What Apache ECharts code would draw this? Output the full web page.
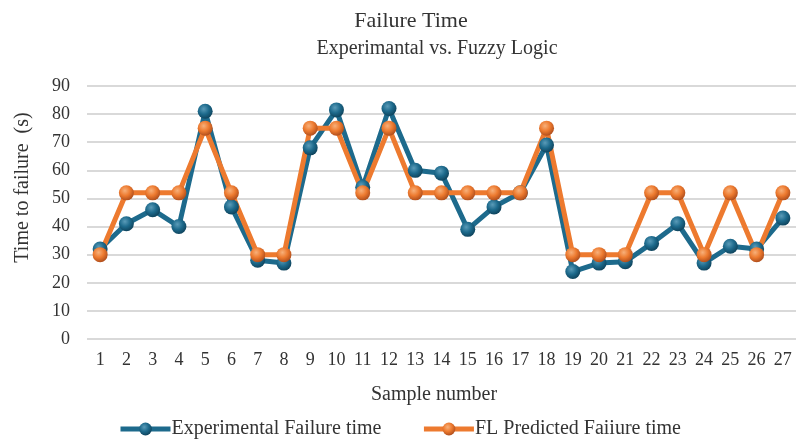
<!DOCTYPE html>
<html>
<head>
<meta charset="utf-8">
<script src="https://cdn.jsdelivr.net/npm/echarts@6/dist/echarts.min.js"></script>
<style>
  html, body { margin: 0; padding: 0; background: #fff; }
  #main { width: 799px; height: 444px; }
</style>
</head>
<body>
<div id="main"></div>
<script>
// 数据
var samples = ['1','2','3','4','5','6','7','8','9','10','11','12','13','14','15','16','17','18','19','20','21','22','23','24','25','26','27'];
var experimental = [32, 41, 46, 40, 81, 47, 28, 27, 68, 81.5, 54, 82, 60, 59, 39, 47, 52, 69, 24, 27, 27.5, 34, 41, 27, 33, 32, 43];
var flPredicted = [30, 52, 52, 52, 75, 52, 30, 30, 75, 75, 52, 75, 52, 52, 52, 52, 52, 75, 30, 30, 30, 52, 52, 30, 52, 30, 52];
var yTicks = [0, 90, 10];

var font = '"Liberation Serif", "Times New Roman", serif';
var blue = '#1d6a8c';
var orange = '#ed7a2f';

// 球形标记的渐变
function ball(light, base, dark) {
  return new echarts.graphic.RadialGradient(0.4, 0.35, 0.7, [
    { offset: 0, color: light },
    { offset: 0.5, color: base },
    { offset: 1, color: dark }
  ]);
}

var myChart = echarts.init(document.getElementById('main'));

var option = {
  backgroundColor: '#fff',
  animation: false,
  title: [
    {
      text: 'Failure Time',
      left: 406,
      top: 5,
      textAlign: 'center',
      textStyle: { fontFamily: font, fontSize: 22, fontWeight: 'normal', color: '#333' }
    },
    {
      text: 'Experimantal vs. Fuzzy Logic',
      left: 432,
      top: 34,
      textAlign: 'center',
      textStyle: { fontFamily: font, fontSize: 20, fontWeight: 'normal', color: '#333' }
    }
  ],
  grid: {
    left: 87,
    right: 3,
    top: 86,
    bottom: 105
  },
  legend: {
    bottom: 0,
    left: 'center',
    itemGap: 40,
    itemWidth: 50,
    itemHeight: 16,
    lineStyle: { width: 5 },
    textStyle: { fontFamily: font, fontSize: 20, color: '#333', padding: [0, 0, 0, -4] },
    data: ['Experimental Failure time', 'FL Predicted Faiiure time']
  },
  xAxis: {
    type: 'category',
    data: samples,
    name: 'Sample number',
    nameLocation: 'middle',
    nameGap: 46,
    nameTextStyle: { fontFamily: font, fontSize: 20, color: '#333', padding: [0, 15, 0, 0] },
    axisLine: { show: false },
    axisTick: { show: false },
    axisLabel: { fontFamily: font, fontSize: 18, color: '#333', margin: 12, interval: 0 }
  },
  yAxis: {
    type: 'value',
    min: yTicks[0],
    max: yTicks[1],
    interval: yTicks[2],
    name: 'Time to failure  (s)',
    nameLocation: 'middle',
    nameGap: 54,
    nameTextStyle: { fontFamily: font, fontSize: 20, color: '#333', padding: [0, 0, 0, 50] },
    axisLine: { show: false },
    axisTick: { show: false },
    axisLabel: { fontFamily: font, fontSize: 18, color: '#333', margin: 17 },
    splitLine: { lineStyle: { color: '#d9d9d9', width: 2 } }
  },
  series: [
    {
      name: 'Experimental Failure time',
      type: 'line',
      data: experimental,
      symbol: 'circle',
      symbolSize: 15,
      lineStyle: { color: blue, width: 5 },
      itemStyle: { color: ball('#5a9bb8', blue, '#0d3f57') }
    },
    {
      name: 'FL Predicted Faiiure time',
      type: 'line',
      data: flPredicted,
      symbol: 'circle',
      symbolSize: 15,
      lineStyle: { color: orange, width: 5 },
      itemStyle: { color: ball('#f7b07a', orange, '#a9491a') }
    }
  ]
};

myChart.setOption(option);
</script>
</body>
</html>
